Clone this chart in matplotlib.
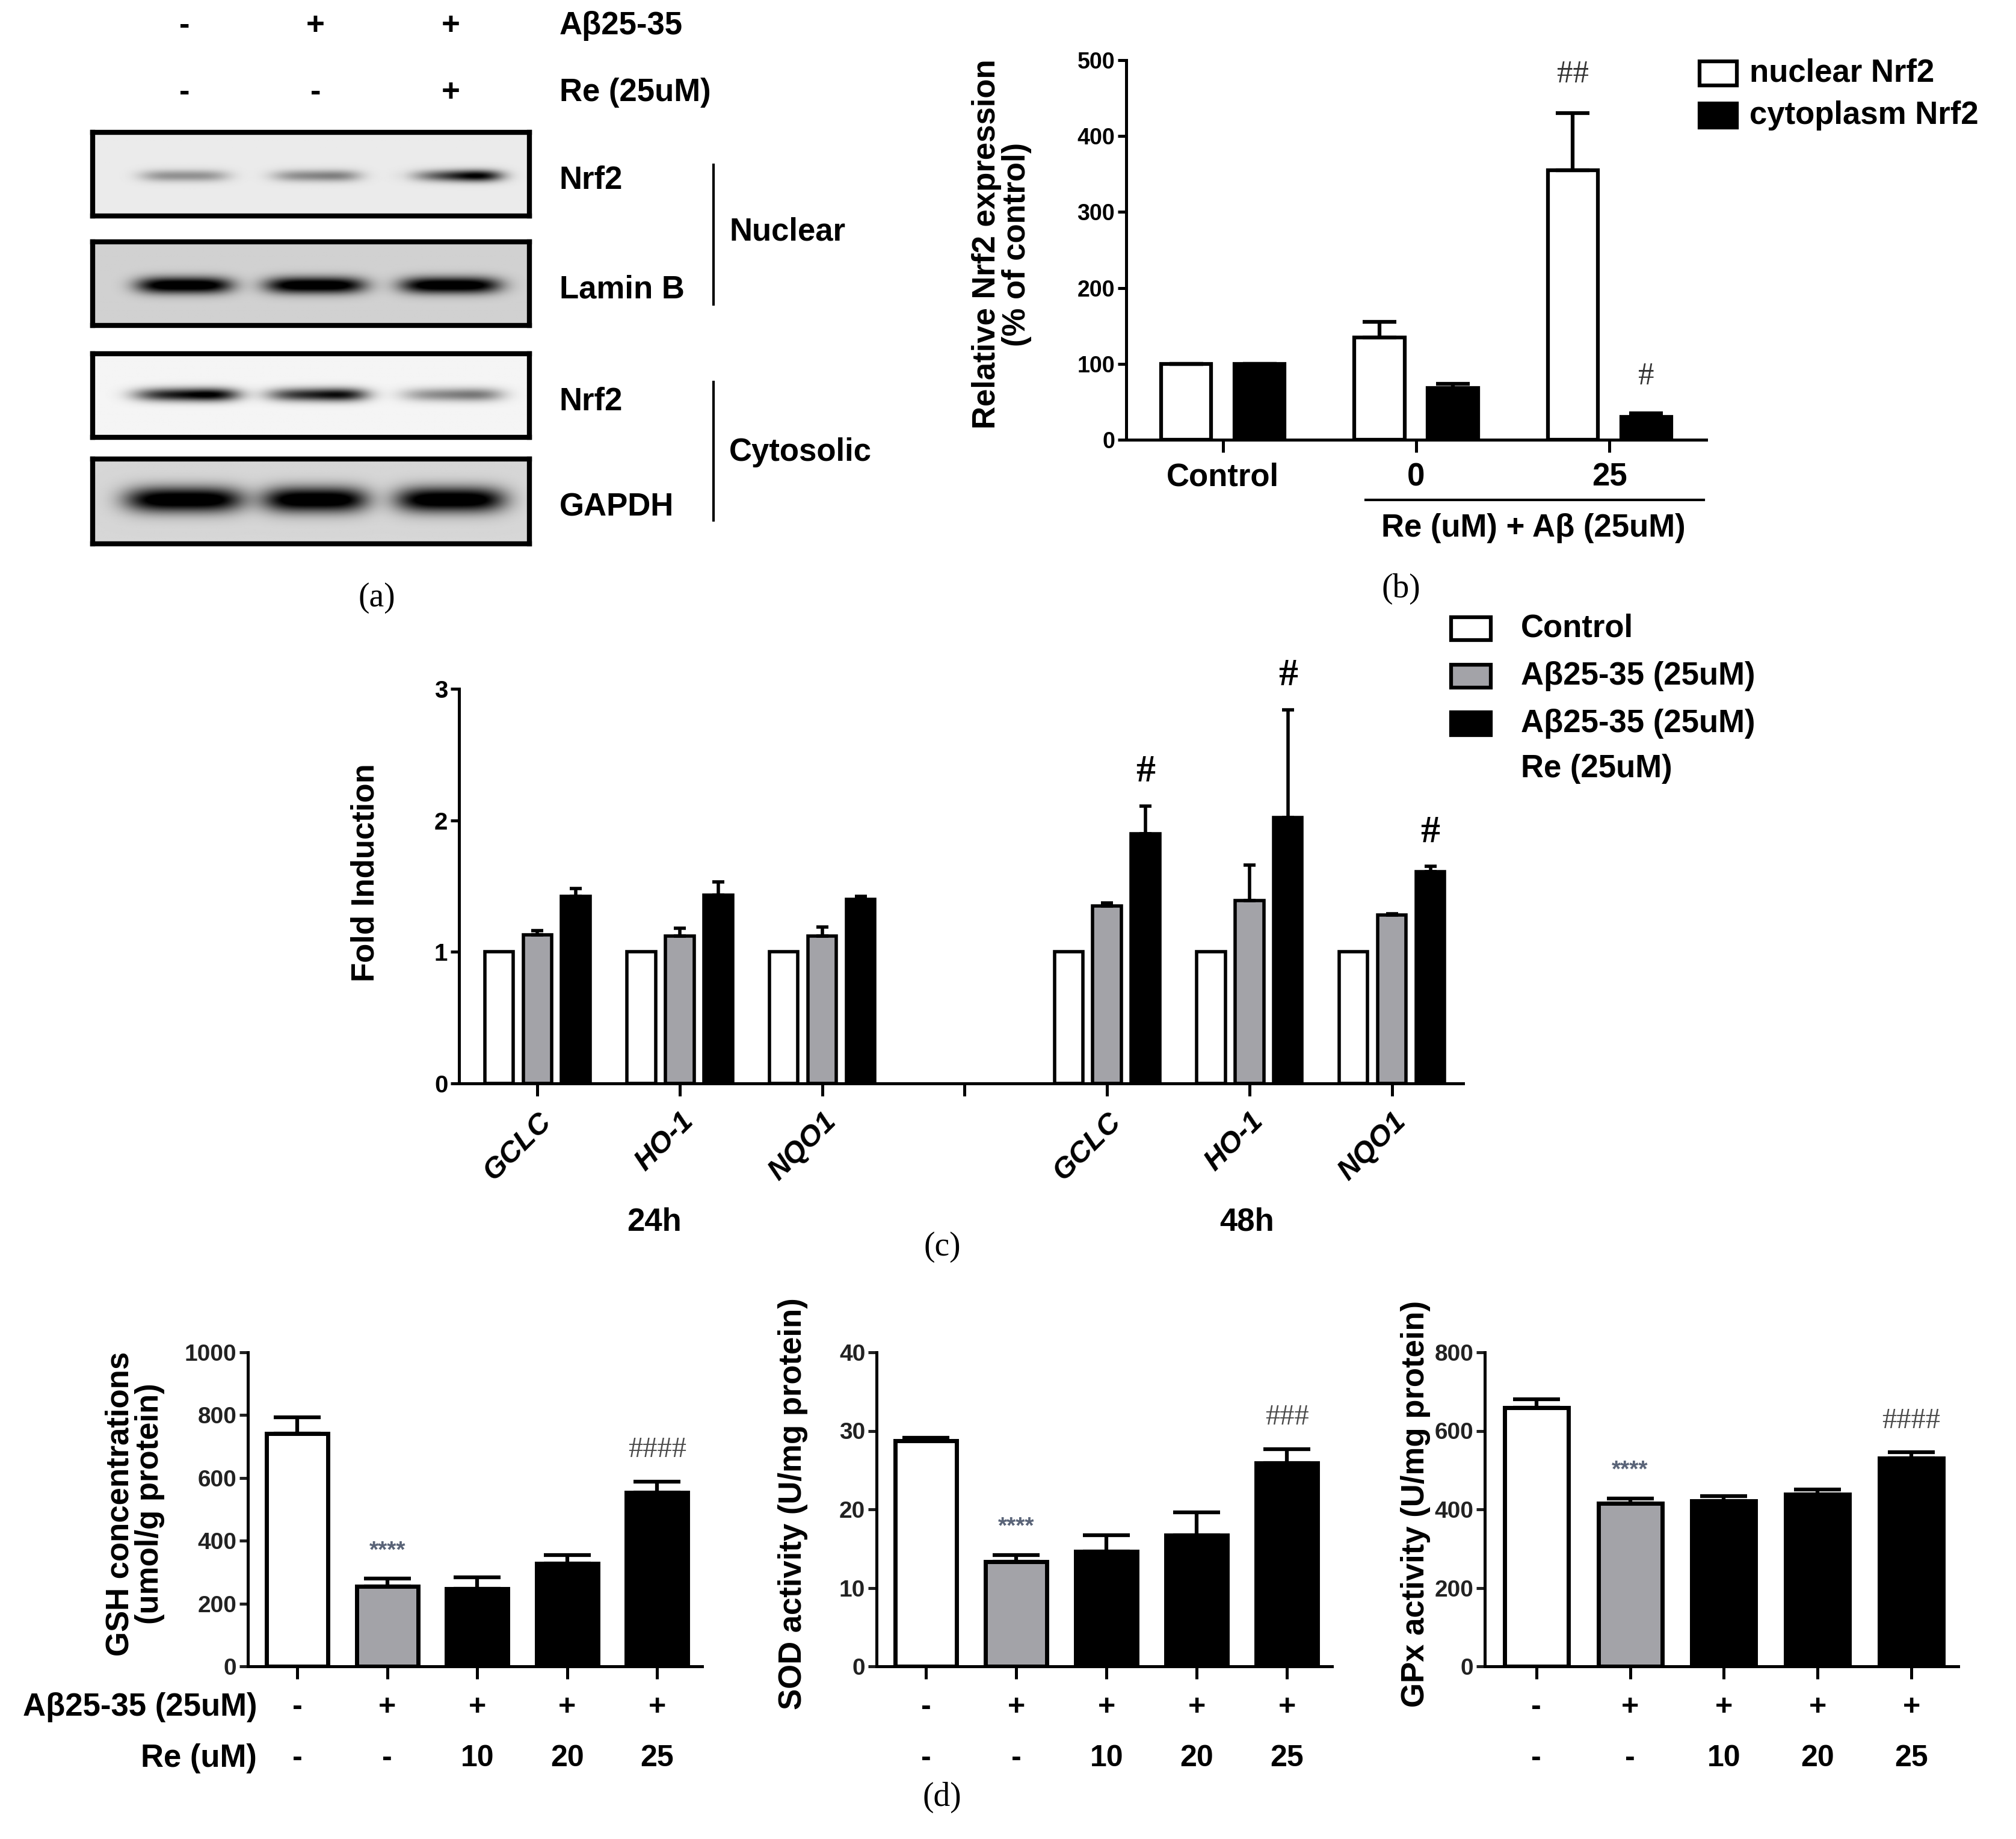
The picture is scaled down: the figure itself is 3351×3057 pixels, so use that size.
import numpy as np
import matplotlib
matplotlib.use('Agg')
import matplotlib.pyplot as plt
from matplotlib.patches import Rectangle
from matplotlib.lines import Line2D
from matplotlib import transforms

plt.rcParams['font.family'] = ['Liberation Sans', 'DejaVu Sans']
plt.rcParams['font.weight'] = 'bold'
SERIF = ['Liberation Serif', 'DejaVu Serif']
GREY = '#a3a3a8'

W, H = 3351, 3057

# ---------------- (a) western blot ----------------
treat_ab = ['-', '+', '+']
treat_re = ['-', '-', '+']
blot_names = ['Nrf2', 'Lamin B', 'Nrf2', 'GAPDH']
lane_x = [0.21, 0.51, 0.82]
blot_intensity = [[0.35, 0.40, 0.72],
                  [0.97, 0.97, 0.97],
                  [0.92, 0.85, 0.45],
                  [1.00, 1.00, 1.00]]
band_skew = [[0.0, 0.2, 0.8],
             [0.0, 0.0, 0.0],
             [0.3, 0.3, 0.3],
             [0.0, 0.0, 0.0]]
blot_background = [0.08, 0.18, 0.04, 0.16]
band_halfwidth = [[0.10, 0.10, 0.11],
                  [0.11, 0.115, 0.115],
                  [0.12, 0.115, 0.115],
                  [0.135, 0.12, 0.125]]
band_thickness = [0.07, 0.10, 0.08, 0.15]
band_center = [0.48, 0.48, 0.51, 0.52]

# ---------------- (b) Nrf2 expression ----------------
b_groups = ['Control', '0', '25']
b_nuclear = [100, 135, 355]
b_nuclear_err = [0, 20, 75]
b_cyto = [100, 68, 30]
b_cyto_err = [0, 6, 5]
b_nuclear_marks = ['', '', '##']
b_cyto_marks = ['', '', '#']

# ---------------- (c) fold induction ----------------
c_ticklabels = ['GCLC', 'HO-1', 'NQO1', '', 'GCLC', 'HO-1', 'NQO1']
c_pos = [0, 1, 2, 4, 5, 6]
c_control = [1, 1, 1, 1, 1, 1]
c_ab = [1.13, 1.12, 1.12, 1.35, 1.39, 1.28]
c_ab_err = [0.03, 0.06, 0.07, 0.02, 0.27, 0.01]
c_re = [1.42, 1.43, 1.40, 1.90, 2.02, 1.61]
c_re_err = [0.06, 0.10, 0.02, 0.21, 0.82, 0.04]
c_marks = ['', '', '', '#', '#', '#']
c_times = ['24h', '48h']

# ---------------- (d) antioxidants ----------------
d_ab = ['-', '+', '+', '+', '+']
d_re = ['-', '-', '10', '20', '25']
d_colors = ['white', GREY, 'black', 'black', 'black']
gsh = [741, 255, 247, 327, 554]
gsh_err = [52, 25, 37, 28, 35]
sod = [28.7, 13.3, 14.6, 16.7, 25.9]
sod_err = [0.4, 0.9, 2.1, 2.9, 1.8]
gpx = [659, 415, 421, 438, 531]
gpx_err = [22, 13, 12, 12, 14]
d_stars = ['', '****', '', '', '']
gsh_hash = ['', '', '', '', '####']
sod_hash = ['', '', '', '', '###']
gpx_hash = ['', '', '', '', '####']

fig = plt.figure(figsize=(W / 100, H / 100), dpi=100)


def add_ax(left, top, right, bottom):
    return fig.add_axes([left / W, 1 - bottom / H, (right - left) / W, (bottom - top) / H])


def ftext(x, y, s, **kw):
    fig.text(x / W, 1 - y / H, s, **kw)


def fline(x1, y1, x2, y2, lw=3):
    fig.add_artist(Line2D([x1 / W, x2 / W], [1 - y1 / H, 1 - y2 / H], color='k', lw=lw))


def style_axes(ax, lw=3.6):
    for s in ['top', 'right']:
        ax.spines[s].set_visible(False)
    for s in ['left', 'bottom']:
        ax.spines[s].set_linewidth(lw)
    ax.tick_params(width=lw, length=10, direction='out')


# ---- (a)
blot_left, blot_right = 154, 880
blot_tops = [220, 402, 588, 763]
blot_bottoms = [359, 541, 727, 904]
xx, yy = np.meshgrid(np.linspace(0, 1, 500), np.linspace(0, 1, 150))
for i in range(4):
    ax = add_ax(blot_left, blot_tops[i], blot_right, blot_bottoms[i])
    img = np.full_like(xx, blot_background[i])
    for j in range(3):
        dx = (xx - lane_x[j]) / band_halfwidth[i][j]
        prof_x = np.exp(-np.abs(dx) ** 4) * np.clip(1 + band_skew[i][j] * dx, 0.2, 2)
        prof_y = np.exp(-((yy - band_center[i]) / band_thickness[i]) ** 2)
        img = img + blot_intensity[i][j] * prof_x * prof_y
    ax.imshow(np.clip(img, 0, 1), cmap='gray_r', vmin=0, vmax=1, extent=[0, 1, 0, 1],
              origin='lower', aspect='auto', interpolation='bilinear')
    ax.set_xticks([])
    ax.set_yticks([])
    for s in ax.spines.values():
        s.set_linewidth(6)
    ftext(930, (blot_tops[i] + blot_bottoms[i]) / 2 + 10, blot_names[i], fontsize=38,
          ha='left', va='center')

for j in range(3):
    lx = blot_left + lane_x[j] * (blot_right - blot_left)
    ftext(lx, 43, treat_ab[j], fontsize=38, ha='center', va='center')
    ftext(lx, 154, treat_re[j], fontsize=38, ha='center', va='center')
ftext(930, 43, 'Aβ25-35', fontsize=38, ha='left', va='center')
ftext(930, 154, 'Re (25uM)', fontsize=38, ha='left', va='center')
fline(1186, 274, 1186, 506)
fline(1186, 635, 1186, 865)
ftext(1212, 385, 'Nuclear', fontsize=38, ha='left', va='center')
ftext(1212, 752, 'Cytosolic', fontsize=38, ha='left', va='center')
ftext(626, 994, '(a)', fontsize=40, family=SERIF, fontweight='normal', ha='center', va='center')

# ---- (b)
axb = add_ax(1872, 100, 2836, 731)
xb = np.arange(len(b_groups))
bw, off = 0.26, 0.19
ekw = dict(capsize=20, elinewidth=4.5, capthick=4.5, ecolor='k')
axb.bar(xb - off, b_nuclear, bw, color='white', edgecolor='k', linewidth=4.5,
        yerr=[np.zeros(3), b_nuclear_err], error_kw=ekw)
axb.bar(xb + off, b_cyto, bw, color='black', edgecolor='k', linewidth=4.5,
        yerr=[np.zeros(3), b_cyto_err], error_kw=ekw)
for k in range(3):
    if b_nuclear_marks[k]:
        axb.annotate(b_nuclear_marks[k], (xb[k] - off, b_nuclear[k] + b_nuclear_err[k]),
                     xytext=(0, 46), textcoords='offset points', ha='center', va='center',
                     fontsize=38, family=SERIF, fontweight='normal', color='#333333')
    if b_cyto_marks[k]:
        axb.annotate(b_cyto_marks[k], (xb[k] + off, b_cyto[k] + b_cyto_err[k]),
                     xytext=(0, 44), textcoords='offset points', ha='center', va='center',
                     fontsize=38, family=SERIF, fontweight='normal', color='#333333')
axb.set_xlim(-0.5, 2.5)
axb.set_ylim(0, 500)
axb.set_yticks(range(0, 501, 100))
axb.set_xticks(xb)
axb.set_xticklabels([])
style_axes(axb)
axb.tick_params(axis='x', length=15)
axb.tick_params(axis='y', labelsize=27)
tb = transforms.blended_transform_factory(axb.transData, fig.transFigure)
for k in range(3):
    axb.text(xb[k], 1 - 793 / H, b_groups[k], transform=tb, fontsize=38, ha='center', va='center')
fline(2270, 831, 2832, 831)
ftext(2549, 878, 'Re (uM) + Aβ (25uM)', fontsize=38, ha='center', va='center')
ftext(1665, 406, 'Relative Nrf2 expression\n(% of control)', fontsize=38, rotation=90,
      ha='center', va='center', multialignment='center', linespacing=1.0)
ftext(2329, 979, '(b)', fontsize=40, family=SERIF, fontweight='normal', ha='center', va='center')
leg_b = [('white', 'nuclear Nrf2', 122), ('black', 'cytoplasm Nrf2', 192)]
for fc, lab, yc in leg_b:
    fig.add_artist(Rectangle((2825 / W, 1 - (yc + 20) / H), 62 / W, 40 / H, facecolor=fc,
                             edgecolor='k', lw=4.5, transform=fig.transFigure))
    ftext(2908, yc, lab, fontsize=38, ha='left', va='center')

# ---- (c)
axc = add_ax(763, 1145, 2432, 1801)
cp = np.array(c_pos)
cw, coff = 0.2, 0.27
ekc = dict(capsize=7, elinewidth=4, capthick=4, ecolor='k')
axc.bar(cp - coff, c_control, cw, color='white', edgecolor='k', linewidth=4)
axc.bar(cp, c_ab, cw, color=GREY, edgecolor='k', linewidth=4,
        yerr=[np.zeros(6), c_ab_err], error_kw=ekc)
axc.bar(cp + coff, c_re, cw, color='black', edgecolor='k', linewidth=4,
        yerr=[np.zeros(6), c_re_err], error_kw=ekc)
for k in range(6):
    if c_marks[k]:
        axc.annotate(c_marks[k], (cp[k] + coff, c_re[k] + c_re_err[k]), xytext=(0, 40),
                     textcoords='offset points', ha='center', va='center', fontsize=46,
                     family=SERIF, fontweight='bold')
axc.set_xlim(-0.55, 6.5)
axc.set_ylim(0, 3)
axc.set_yticks([0, 1, 2, 3])
axc.set_xticks(range(7))
axc.set_xticklabels(c_ticklabels, rotation=45, ha='right', rotation_mode='anchor',
                    fontsize=35, fontstyle='italic')
shift = transforms.ScaledTranslation(-28 / 72, -4 / 72, fig.dpi_scale_trans)
for lab in axc.get_xticklabels():
    lab.set_transform(lab.get_transform() + shift)
style_axes(axc)
axc.tick_params(axis='x', length=15, pad=14)
axc.tick_params(axis='y', labelsize=29)
ftext(1088, 2032, c_times[0], fontsize=38, ha='center', va='center')
ftext(2073, 2032, c_times[1], fontsize=38, ha='center', va='center')
ftext(607, 1451, 'Fold Induction', fontsize=38, rotation=90, ha='center', va='center')
ftext(1566, 2073, '(c)', fontsize=40, family=SERIF, fontweight='normal', ha='center', va='center')
leg_c = [('white', 'Control', 1045), (GREY, 'Aβ25-35 (25uM)', 1124),
         ('black', 'Aβ25-35 (25uM)', 1203)]
for fc, lab, yc in leg_c:
    fig.add_artist(Rectangle((2412 / W, 1 - (yc + 19) / H), 66 / W, 38 / H, facecolor=fc,
                             edgecolor='k', lw=4.5, transform=fig.transFigure))
    ftext(2528, yc, lab, fontsize=38, ha='left', va='center')
ftext(2528, 1278, 'Re (25uM)', fontsize=38, ha='left', va='center')

# ---- (d)
d_specs = [(412, 1167, gsh, gsh_err, gsh_hash, 1000, 200,
            'GSH concentrations\n(umol/g protein)', 224),
           (1457, 2214, sod, sod_err, sod_hash, 40, 10, 'SOD activity (U/mg protein)', 1318),
           (2468, 3255, gpx, gpx_err, gpx_hash, 800, 200, 'GPx activity (U/mg protein)', 2353)]
xd = np.arange(5)
ekd = dict(capsize=28, elinewidth=4.5, capthick=4.5, ecolor='k')
for left, right, vals, errs, hashes, ymax, ystep, ylab, ylx in d_specs:
    ax = add_ax(left, 2248, right, 2770)
    ax.bar(xd, vals, 0.68, color=d_colors, edgecolor='k', linewidth=5,
           yerr=[np.zeros(5), errs], error_kw=ekd)
    for k in range(5):
        if d_stars[k]:
            ax.annotate(d_stars[k], (xd[k], vals[k] + errs[k]), xytext=(0, 33),
                        textcoords='offset points', ha='center', va='center', fontsize=28,
                        color='#5a6478')
        if hashes[k]:
            ax.annotate(hashes[k], (xd[k], vals[k] + errs[k]), xytext=(0, 38),
                        textcoords='offset points', ha='center', va='center', fontsize=35,
                        family=SERIF, fontweight='normal', color='#4a4a4a')
    ax.set_xlim(-0.55, 4.5)
    ax.set_ylim(0, ymax)
    ax.set_yticks(np.arange(0, ymax + 1, ystep))
    ax.set_xticks(xd)
    ax.set_xticklabels([])
    style_axes(ax)
    ax.tick_params(axis='x', length=15)
    ax.tick_params(axis='y', labelsize=28, colors='#222222')
    td = transforms.blended_transform_factory(ax.transData, fig.transFigure)
    for k in range(5):
        ax.text(xd[k], 1 - 2838 / H, d_ab[k], transform=td, fontsize=36, ha='center', va='center')
        ax.text(xd[k], 1 - 2923 / H, d_re[k], transform=td, fontsize=36, ha='center', va='center')
    ftext(ylx, 2500, ylab, fontsize=38, rotation=90, ha='center', va='center',
          multialignment='center', linespacing=1.0)

ftext(427, 2838, 'Aβ25-35 (25uM)', fontsize=38, ha='right', va='center')
ftext(427, 2923, 'Re (uM)', fontsize=38, ha='right', va='center')
ftext(1566, 2988, '(d)', fontsize=40, family=SERIF, fontweight='normal', ha='center', va='center')

fig.savefig('out.png', dpi=100, facecolor='white')
